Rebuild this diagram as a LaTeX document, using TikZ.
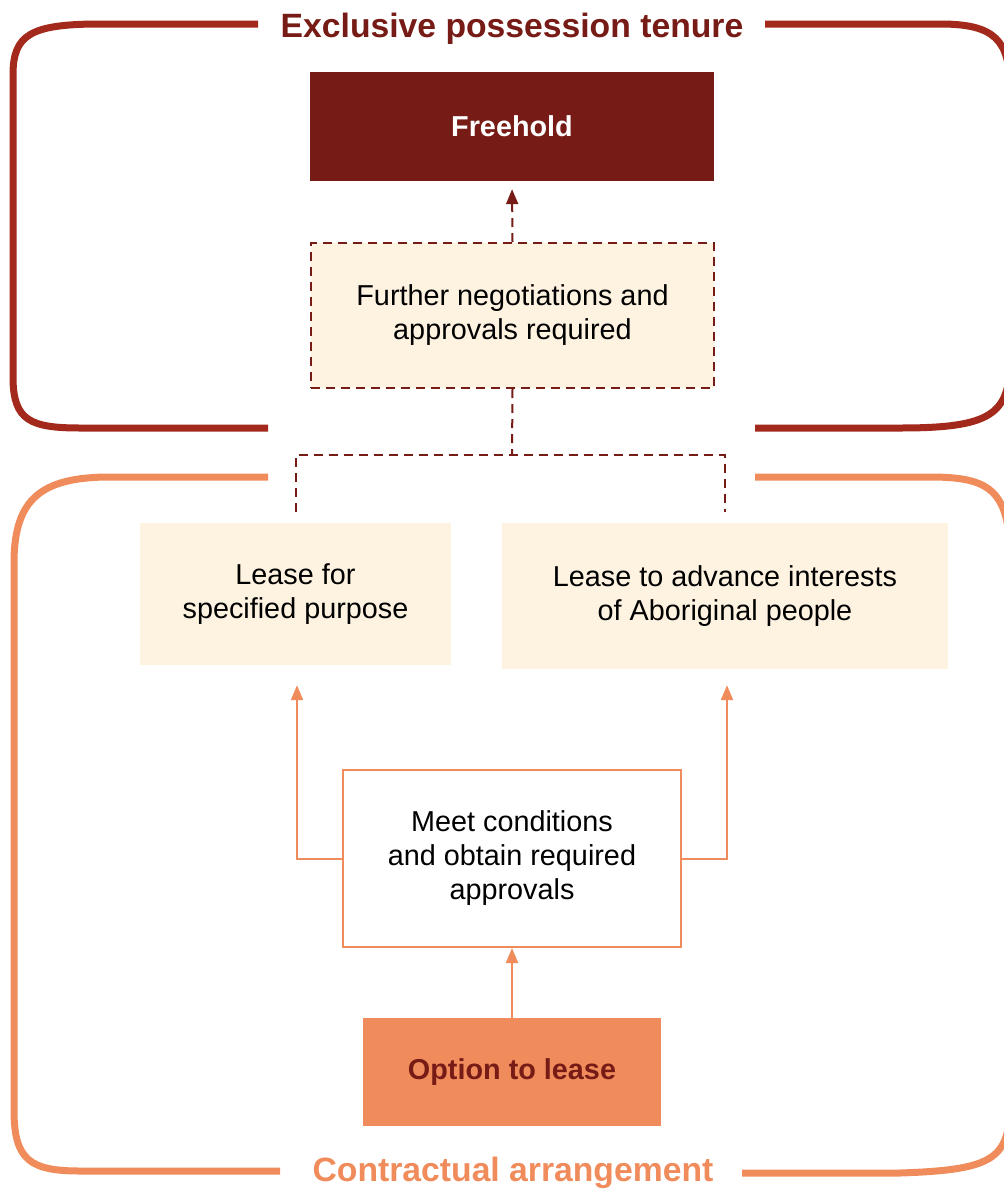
\documentclass[tikz,border=0pt]{standalone}
\usepackage{fontspec}
\setmainfont{Liberation Sans}
\usetikzlibrary{arrows.meta}
\definecolor{darkred}{HTML}{771B16}
\definecolor{brred}{HTML}{A2291B}
\definecolor{orng}{HTML}{F08C5C}
\definecolor{cream}{HTML}{FEF3E1}
\tikzset{
  base/.style={inner sep=0pt, align=center, font=\fontsize{28.8}{34}\selectfont},
  darkbox/.style={base, fill=darkred, text=white, font=\fontsize{28.8}{34}\selectfont\bfseries},
  dashbox/.style={base, fill=cream, draw=darkred, line width=2pt, dash pattern=on 9pt off 6pt},
  creambox/.style={base, fill=cream},
  whitebox/.style={base, fill=white, draw=orng, line width=2pt},
  orbox/.style={base, fill=orng, text=darkred, font=\fontsize{28.8}{34}\selectfont\bfseries},
  dashline/.style={draw=darkred, line width=2pt, dash pattern=on 9pt off 6pt},
  orline/.style={draw=orng, line width=2pt},
  tip/.style={-{Triangle[length=15pt,width=12pt]}},
  bracketred/.style={draw=brred, line width=7pt},
  bracketor/.style={draw=orng, line width=7pt},
  titletext/.style={inner sep=0pt, font=\fontsize{33.7}{40}\selectfont\bfseries}
}
\begin{document}
\begin{tikzpicture}[x=1pt,y=-1pt]
\useasboundingbox (0,0) rectangle (1004,1189);
\clip (0,0) rectangle (1004,1189);
\fill[white] (0,0) rectangle (1004,1189);

% brackets
\draw[bracketred] (258,24) -- (100,24) .. controls (30,24) and (13,35) .. (13,75) -- (13,380) .. controls (14,420) and (30,428) .. (80,428) -- (268,428);
\draw[bracketred] (765,24) -- (940,24) .. controls (995,24) and (1010,40) .. (1010,90) -- (1010,360) .. controls (1010,415) and (990,428) .. (900,428) -- (755,428);
\draw[bracketor] (268,477) -- (110,477) .. controls (40,477) and (15,500) .. (14,560) -- (14,1110) .. controls (14,1160) and (30,1171) .. (80,1171) -- (280,1171);
\draw[bracketor] (755,477) -- (930,477) .. controls (990,477) and (1010,490) .. (1010,560) -- (1010,1110) .. controls (1008,1160) and (990,1170) .. (900,1173) -- (742,1173);

\node[titletext, text=darkred] (ttop) at (512,29) {Exclusive possession tenure};
\node[titletext, text=orng] (tbot) at (513,1173) {Contractual arrangement};

% boxes
\node[darkbox, minimum width=404pt, minimum height=109pt] (freehold) at (512,126.5) {Freehold};
\node[dashbox, minimum width=403pt, minimum height=145pt] (further) at (512.5,315.5) {Further negotiations and\\approvals required};
\node[creambox, minimum width=311pt, minimum height=142pt] (lease1) at (295.5,594) {Lease for\\specified purpose};
\node[creambox, minimum width=446pt, minimum height=146pt] (lease2) at (725,596) {Lease to advance interests\\of Aboriginal people};
\node[whitebox, minimum width=338pt, minimum height=177pt] (meet) at (512,858.5) {Meet conditions\\and obtain required\\approvals};
\node[orbox, minimum width=298pt, minimum height=108pt] (option) at (512,1072) {Option to lease};

% connectors
\draw[dashline, tip, shorten >=8pt] (further.north) -- (freehold.south);
\coordinate (split) at (512,455);
\draw[dashline] (further.south) -- (split);
\draw[dashline] ([yshift=11pt]lease1.north) |- (split) -| ([yshift=11pt]lease2.north);
\draw[orline, tip, shorten >=20pt] (meet.west) -| ([xshift=1.5pt]lease1.south);
\draw[orline, tip, shorten >=16pt] (meet.east) -| ([xshift=2pt]lease2.south);
\draw[orline, tip] (option.north) -- (meet.south);
\end{tikzpicture}
\end{document}
